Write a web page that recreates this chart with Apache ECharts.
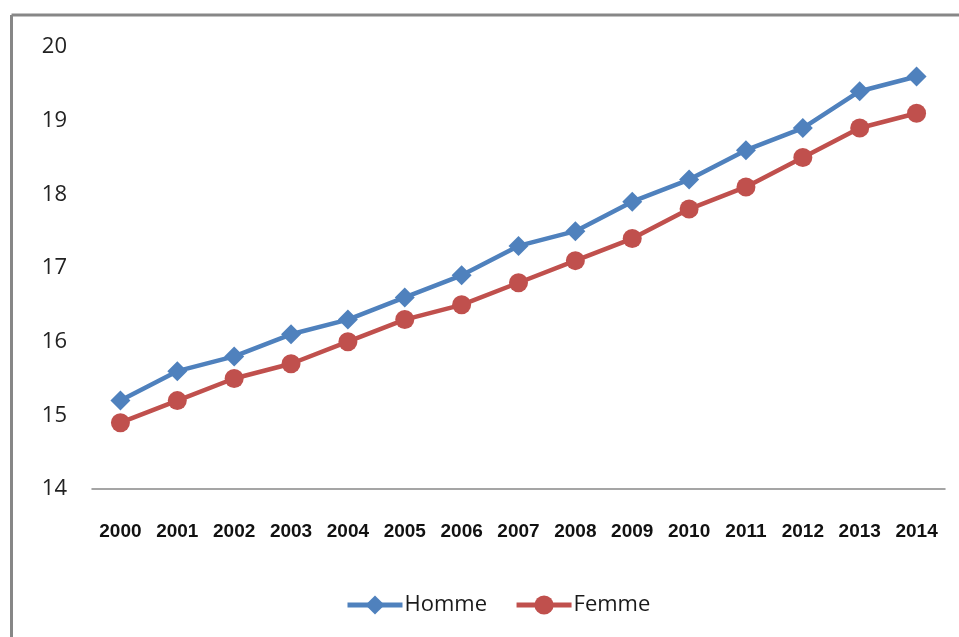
<!DOCTYPE html>
<html>
<head>
<meta charset="utf-8">
<script src="https://cdn.jsdelivr.net/npm/echarts@6/dist/echarts.min.js"></script>
<style>html,body{margin:0;padding:0;background:#fff}#c{width:959px;height:637px}</style>
</head>
<body>
<div id="c"></div>
<script>
const years = ['2000','2001','2002','2003','2004','2005','2006','2007','2008','2009','2010','2011','2012','2013','2014'];
const homme = [15.2,15.6,15.8,16.1,16.3,16.6,16.9,17.3,17.5,17.9,18.2,18.6,18.9,19.4,19.6];
const femme = [14.9,15.2,15.5,15.7,16.0,16.3,16.5,16.8,17.1,17.4,17.8,18.1,18.5,18.9,19.1];
const seriesNames = ['Homme','Femme'];

const chart = echarts.init(document.getElementById('c'), null, {renderer:'canvas'});
chart.setOption({
  animation:false,
  backgroundColor:'#fff',
  graphic:[
    {type:'line', shape:{x1:11.5,y1:15,x2:959,y2:15}, style:{stroke:'#878787', lineWidth:3}},
    {type:'line', shape:{x1:11.5,y1:15,x2:11.5,y2:637}, style:{stroke:'#878787', lineWidth:3}}
  ],
  grid:{left:92,right:14,top:47,bottom:148},
  legend:{
    left:340, top:589, itemWidth:55, itemHeight:24, itemGap:27,
    lineStyle:{width:5},
    textStyle:{fontFamily:'Open Sans', fontSize:22, color:'#1a1a1a', padding:[0,0,0,-3]},
    data:seriesNames
  },
  xAxis:{
    type:'category', data:years, boundaryGap:true,
    axisLine:{lineStyle:{color:'#888', width:1.5}},
    axisTick:{show:false},
    axisLabel:{interval:0, margin:33, fontFamily:'Liberation Sans', fontWeight:'bold', fontSize:19, color:'#111'}
  },
  yAxis:{
    type:'value', min:14, max:20, interval:1,
    axisLine:{show:false}, axisTick:{show:false}, splitLine:{show:false},
    axisLabel:{margin:25, fontFamily:'Open Sans', fontSize:22, color:'#222'}
  },
  series:[
    {name:seriesNames[0], type:'line', data:homme, symbol:'diamond', symbolSize:20,
     lineStyle:{color:'#4F81BD', width:4.5}, itemStyle:{color:'#4F81BD'}},
    {name:seriesNames[1], type:'line', data:femme, symbol:'circle', symbolSize:19,
     lineStyle:{color:'#C0504D', width:4.5}, itemStyle:{color:'#C0504D'}}
  ]
});
</script>
</body>
</html>
